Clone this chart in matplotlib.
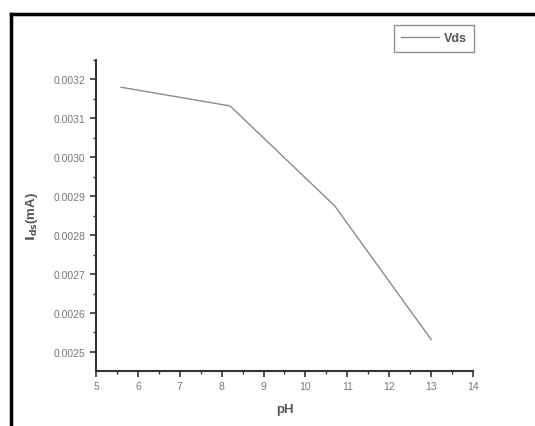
import matplotlib
matplotlib.use("Agg")
import matplotlib.pyplot as plt
from matplotlib.lines import Line2D
from matplotlib.ticker import MultipleLocator, FormatStrFormatter

plt.rcParams['font.family'] = ['Liberation Sans', 'DejaVu Sans']

ph = [5.6, 8.2, 10.7, 13.0]
ids = [0.00318, 0.003132, 0.002875, 0.002532]
series_name = "Vds"

W, H = 535, 427
fig = plt.figure(figsize=(W/100, H/100), dpi=100)
ax = fig.add_axes([96/W, 1-372/H, (473-96)/W, (372-61)/H])

ax.plot(ph, ids, color='#8a8a8a', lw=1.0, label=series_name)
ax.set_xlim(5, 14)
ax.set_ylim(0.002451, 0.003250)

ax.xaxis.set_major_locator(MultipleLocator(1))
ax.xaxis.set_minor_locator(MultipleLocator(0.5))
ax.yaxis.set_major_locator(MultipleLocator(0.0001))
ax.yaxis.set_minor_locator(MultipleLocator(0.00005))
ax.yaxis.set_major_formatter(FormatStrFormatter('%.4f'))

for s in ['top', 'right']:
    ax.spines[s].set_visible(False)
for s in ['left', 'bottom']:
    ax.spines[s].set_linewidth(1.5)
    ax.spines[s].set_color('#333333')

ax.tick_params(which='major', direction='out', length=4, width=1.2, color='#333333',
               labelsize=7.5, labelcolor='#777777')
ax.tick_params(which='minor', direction='out', length=2.5, width=1.0, color='#333333')

ax.set_xlabel('pH', fontsize=9.5, fontweight='bold', color='#555555', labelpad=8)
ax.set_ylabel(r'$\mathbf{I_{ds}}$(mA)', fontsize=9.5, fontweight='bold', color='#555555', labelpad=10)

leg = ax.legend(loc='upper right', bbox_to_anchor=(474/W, 1-26/H), bbox_transform=fig.transFigure,
                frameon=True, fancybox=False, handlelength=3.0,
                borderpad=0.6, handletextpad=0.4, borderaxespad=0,
                prop={'weight': 'bold', 'size': 9})
leg.get_frame().set_edgecolor('#777777')
leg.get_frame().set_linewidth(1.0)
for t in leg.get_texts():
    t.set_color('#555555')

# outer frame
fig.add_artist(Line2D([11/W, 1.0], [1-15/H, 1-15/H], transform=fig.transFigure, color='black', lw=2.5))
fig.add_artist(Line2D([11/W, 11/W], [0.0, 1-15/H], transform=fig.transFigure, color='black', lw=2.5))

fig.savefig('out.png', dpi=100)
